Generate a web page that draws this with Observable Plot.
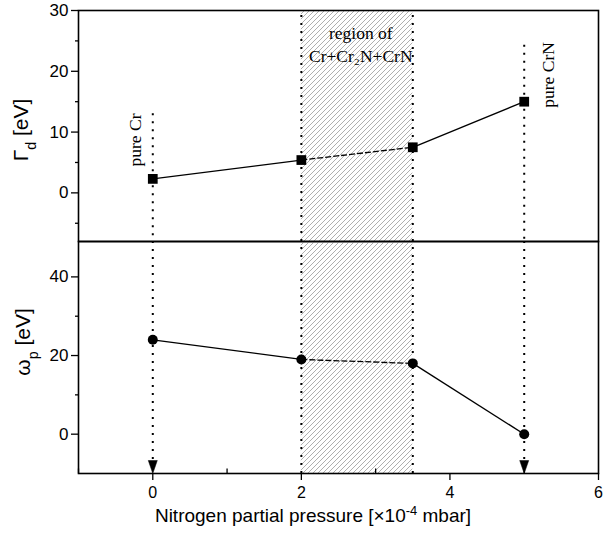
<!DOCTYPE html>
<html>
<head>
<meta charset="utf-8">
<script src="https://cdn.jsdelivr.net/npm/d3@7"></script>
<script src="https://cdn.jsdelivr.net/npm/@observablehq/plot@0.6"></script>
<style>
  html, body { margin: 0; padding: 0; background: white; }
  #chart { position: relative; width: 603px; height: 535px; }
  #chart svg { display: block; }
</style>
</head>
<body>
<div id="chart"></div>
<script>
// ---- data ----
const pressure = [0, 2, 3.5, 5];              // ×10^-4 mbar
const gammaD   = [2.3, 5.4, 7.5, 15];         // Γd [eV]
const omegaP   = [24, 19, 18, 0];             // ωp [eV]
const segmentDashed = [false, true, false];   // segment i -> i+1
const regionX = [2, 3.5];                     // mixed-phase region
const pureX = [0, 5];
const topGuideStart = [13, 24.3];             // where dotted guides start in top panel
const topYTicks = [0, 10, 20, 30];
const topYMinor = [-5, 5, 15, 25];
const botYTicks = [0, 20, 40];
const botYMinor = [10, 30];
const xTicks = [0, 2, 4, 6];
const xMinor = [-1, 1, 3, 5];
const annotations = [
  {x: -0.23, y: 8.7, text: "pure Cr", rotate: -90},
  {x: 5.33, y: 19.4, text: "pure CrN", rotate: -90},
  {x: 2.8, y: 26.2, text: "region of", rotate: 0},
  {x: 2.8, y: 22.5, text: "Cr+Cr\u2082N+CrN", rotate: 0}
];

const topDomain = [-8, 30];
const botDomain = [-10, 49];

const pts = (vals) => pressure.map((x, i) => ({x, y: vals[i]}));
const segs = (vals) => pressure.slice(0, -1).map((x, i) => ({
  x1: x, y1: vals[i], x2: pressure[i + 1], y2: vals[i + 1], dashed: segmentDashed[i]
}));

function hatchDefs(id) {
  return () => {
    const defs = d3.create("svg:defs");
    const p = defs.append("pattern").attr("id", id)
      .attr("patternUnits", "userSpaceOnUse").attr("width", 5).attr("height", 5);
    p.append("path").attr("d", "M-1,1 l2,-2 M0,5 l5,-5 M4,6 l2,-2")
      .attr("stroke", "#9a9a9a").attr("stroke-width", 0.8);
    return defs.node();
  };
}

const arrowSymbol = {draw(ctx) { ctx.moveTo(-4.5, -13); ctx.lineTo(4.5, -13); ctx.lineTo(0, 0); ctx.closePath(); }};
const upTickSymbol = {draw(ctx) { ctx.moveTo(0, 0); ctx.lineTo(0, -5); }};

const style = {fontFamily: "'Liberation Sans', Arial, sans-serif", fontSize: "16px", color: "black", background: "transparent", overflow: "visible"};
const dotted = {strokeDasharray: "2,6", strokeWidth: 2, stroke: "black"};
const serifText = {fontFamily: "'Liberation Serif', 'Times New Roman', serif", fontSize: 17.5, fill: "black"};
const yTickText = {fontSize: 17, fill: "black"};

// ---- top panel ----
const topPlot = Plot.plot({
  width: 603, height: 241, marginLeft: 78, marginRight: 5, marginTop: 10, marginBottom: 0,
  x: {domain: [-1, 6], axis: null},
  y: {domain: topDomain},
  style,
  marks: [
    hatchDefs("hatchTop"),
    Plot.rect([regionX], {x1: d => d[0], x2: d => d[1], fill: "url(#hatchTop)"}),
    Plot.ruleX(regionX, {x: d => d, y1: topDomain[0], y2: topDomain[1], ...dotted}),
    Plot.ruleX(pureX, {x: d => d, y1: (d, i) => topGuideStart[i], y2: topDomain[0], ...dotted}),
    Plot.axisY({ticks: topYTicks, tickSize: 7, tickPadding: 3, label: null, strokeWidth: 1.3, tickFormat: "d", ...yTickText}),
    Plot.axisY({ticks: topYMinor, tickSize: 3, text: null, label: null, strokeWidth: 1.3}),
    Plot.frame({stroke: "black", strokeWidth: 1.6}),
    Plot.link(segs(gammaD).filter(d => !d.dashed), {x1: "x1", y1: "y1", x2: "x2", y2: "y2", stroke: "black", strokeWidth: 1.3}),
    Plot.link(segs(gammaD).filter(d => d.dashed), {x1: "x1", y1: "y1", x2: "x2", y2: "y2", stroke: "black", strokeWidth: 1.3, strokeDasharray: "6,2"}),
    Plot.dot(pts(gammaD), {x: "x", y: "y", symbol: "square", r: 5.5, fill: "black"}),
    Plot.text(annotations, {x: "x", y: "y", text: "text", rotate: "rotate", ...serifText})
  ]
});

// ---- bottom panel ----
const botPlot = Plot.plot({
  width: 603, height: 294, marginLeft: 78, marginRight: 5, marginTop: 0, marginBottom: 62,
  x: {domain: [-1, 6]},
  y: {domain: botDomain},
  style,
  marks: [
    hatchDefs("hatchBot"),
    Plot.rect([regionX], {x1: d => d[0], x2: d => d[1], fill: "url(#hatchBot)"}),
    Plot.ruleX(regionX, {x: d => d, y1: botDomain[0], y2: botDomain[1], ...dotted}),
    Plot.ruleX(pureX, {x: d => d, y1: botDomain[1], y2: botDomain[0] + 3, ...dotted}),
    Plot.dot(pureX, {x: d => d, y: botDomain[0], symbol: arrowSymbol, r: 5, fill: "black", stroke: "black", strokeWidth: 0.5}),
    Plot.axisY({ticks: botYTicks, tickSize: 7, tickPadding: 3, label: null, strokeWidth: 1.3, tickFormat: "d", ...yTickText}),
    Plot.axisY({ticks: botYMinor, tickSize: 3, text: null, label: null, strokeWidth: 1.3}),
    Plot.axisX({ticks: xTicks, tickSize: 7, tickPadding: 6, label: null, strokeWidth: 1.3, tickFormat: "d", fill: "black"}),
    Plot.dot(xMinor, {x: d => d, y: botDomain[0], symbol: upTickSymbol, r: 3, stroke: "black", strokeWidth: 1.3, fill: "none"}),
    Plot.frame({stroke: "black", strokeWidth: 1.6}),
    Plot.link(segs(omegaP).filter(d => !d.dashed), {x1: "x1", y1: "y1", x2: "x2", y2: "y2", stroke: "black", strokeWidth: 1.3}),
    Plot.link(segs(omegaP).filter(d => d.dashed), {x1: "x1", y1: "y1", x2: "x2", y2: "y2", stroke: "black", strokeWidth: 1.3, strokeDasharray: "6,2"}),
    Plot.dot(pts(omegaP), {x: "x", y: "y", symbol: "circle", r: 5, fill: "black"})
  ]
});

// axis titles with sub/superscripts
function addLabel(svg, x, y, rotate, parts, size) {
  const t = d3.select(svg).append("text")
    .attr("transform", `translate(${x},${y}) rotate(${rotate})`)
    .attr("text-anchor", "middle")
    .attr("font-family", "'Liberation Sans', Arial, sans-serif")
    .attr("font-size", size).attr("fill", "black");
  parts.forEach(p => {
    const ts = t.append("tspan").text(p.text);
    if (p.shift) ts.attr("baseline-shift", p.shift).attr("font-size", size * 0.68);
  });
}
addLabel(topPlot, 28, 130, -90, [{text: "\u0393"}, {text: "d", shift: "sub"}, {text: " [eV]"}], 21);
addLabel(botPlot, 30, 101, -90, [{text: "\u03c9"}, {text: "p", shift: "sub"}, {text: " [eV]"}], 21);
addLabel(botPlot, 313, 281, 0, [{text: "Nitrogen partial pressure [\u00d710"}, {text: "-4", shift: "super"}, {text: " mbar]"}], 19);

const chart = document.getElementById("chart");
chart.appendChild(topPlot);
chart.appendChild(botPlot);
</script>
</body>
</html>
